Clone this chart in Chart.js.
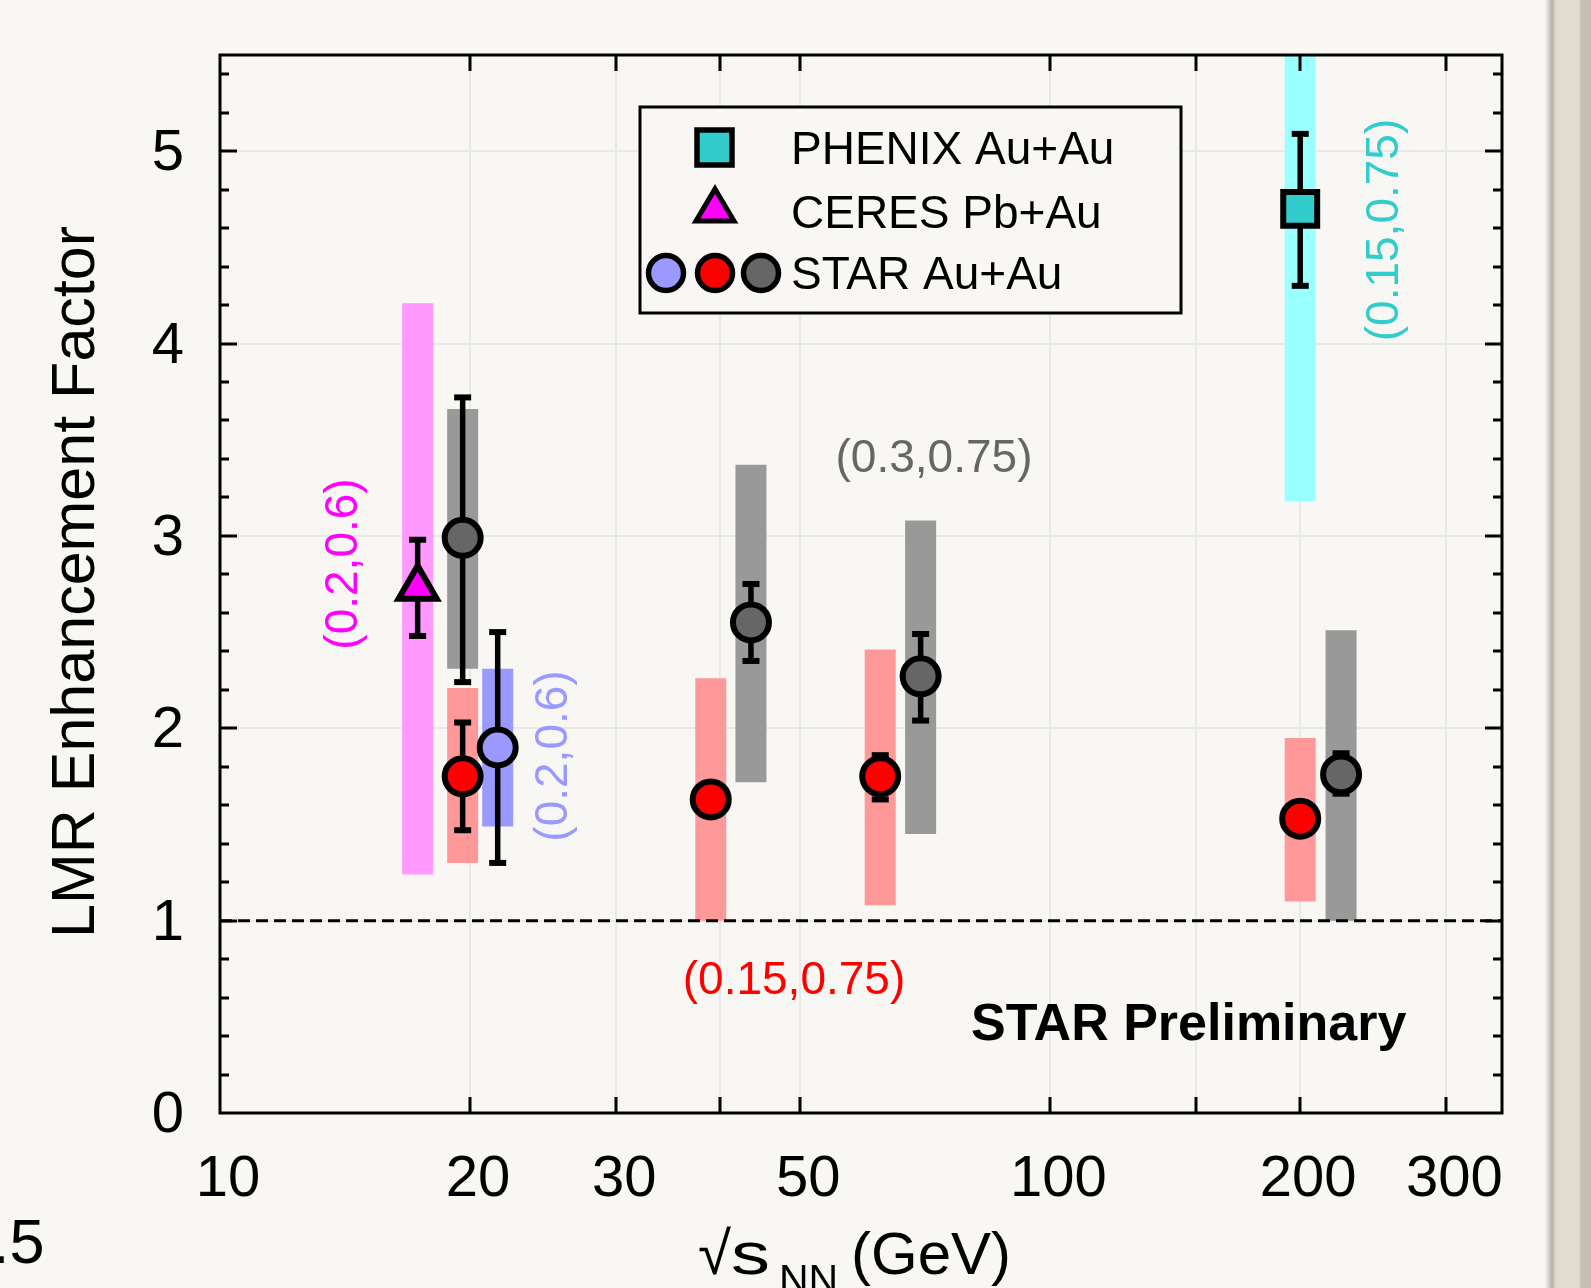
<!DOCTYPE html>
<html>
<head>
<meta charset="utf-8">
<title>LMR Enhancement Factor</title>
<script src="https://cdn.jsdelivr.net/npm/chart.js@4.4.1/dist/chart.umd.min.js"></script>
<style>
  html, body { margin: 0; padding: 0; background: #f8f7f3; overflow: hidden; }
  #wrap { position: relative; width: 1591px; height: 1288px; }
  #edge { position: absolute; left: 1545px; top: 0; width: 46px; height: 1288px;
    background: linear-gradient(to right, #f8f7f3 0px, #b3b1a9 7px, #c8c5ba 9px, #e1dccd 11px, #e1dccd 34px, #c4c0b4 36px, #c4c0b4 46px); }
</style>
</head>
<body>
<div id="wrap">
  <canvas id="c" width="1591" height="1288"></canvas>
  <div id="edge"></div>
</div>
<script>
const FONT = '"Liberation Sans", Arial, Helvetica, sans-serif';
const BG = '#f8f7f3';

// axes
const X_MIN = 10, X_MAX = 350;
const Y_MIN = 0, Y_MAX = 5.5, Y_MINOR = 0.2;
const xTickValues = [10, 20, 30, 40, 50, 100, 150, 200, 300];
const xTickLabels = ['10', '20', '30', '', '50', '100', '', '200', '300'];
const yTickValues = [0, 1, 2, 3, 4, 5];

// PHENIX Au+Au
const phenixX = [200];
const phenixY = [4.70];
const phenixStatLo = [4.30];
const phenixStatHi = [5.09];
const phenixSysLo = [3.18];
const phenixSysHi = [6.0];

// CERES Pb+Au
const ceresX = [17.3];
const ceresY = [2.73];
const ceresStatLo = [2.48];
const ceresStatHi = [2.98];
const ceresSysLo = [1.24];
const ceresSysHi = [4.21];

// STAR Au+Au (0.2,0.6)
const starBlueX = [21.6];
const starBlueY = [1.90];
const starBlueStatLo = [1.30];
const starBlueStatHi = [2.50];
const starBlueSysLo = [1.49];
const starBlueSysHi = [2.31];

// STAR Au+Au (0.15,0.75)
const starRedX = [19.6, 39, 62.4, 200];
const starRedY = [1.75, 1.63, 1.75, 1.53];
const starRedStatLo = [1.47, 1.60, 1.63, 1.50];
const starRedStatHi = [2.03, 1.67, 1.86, 1.56];
const starRedSysLo = [1.30, 1.00, 1.08, 1.10];
const starRedSysHi = [2.21, 2.26, 2.41, 1.95];

// STAR Au+Au (0.3,0.75)
const starGrayX = [19.6, 43.6, 69.8, 224];
const starGrayY = [2.99, 2.55, 2.27, 1.76];
const starGrayStatLo = [2.24, 2.35, 2.04, 1.66];
const starGrayStatHi = [3.72, 2.75, 2.49, 1.87];
const starGraySysLo = [2.31, 1.72, 1.45, 1.00];
const starGraySysHi = [3.66, 3.37, 3.08, 2.51];

const REF_LINE = 1;

const groups = [
  { x: phenixX, y: phenixY, lo: phenixStatLo, hi: phenixStatHi, sLo: phenixSysLo, sHi: phenixSysHi,
    fill: '#33cccc', sys: '#99ffff', style: 'rect', r: 24 },
  { x: ceresX, y: ceresY, lo: ceresStatLo, hi: ceresStatHi, sLo: ceresSysLo, sHi: ceresSysHi,
    fill: '#ff00ff', sys: '#ff99ff', style: 'triangle', r: 22 },
  { x: starBlueX, y: starBlueY, lo: starBlueStatLo, hi: starBlueStatHi, sLo: starBlueSysLo, sHi: starBlueSysHi,
    fill: '#9999ff', sys: '#9999ff', style: 'circle', r: 18 },
  { x: starRedX, y: starRedY, lo: starRedStatLo, hi: starRedStatHi, sLo: starRedSysLo, sHi: starRedSysHi,
    fill: '#ff0000', sys: '#ff9999', style: 'circle', r: 18 },
  { x: starGrayX, y: starGrayY, lo: starGrayStatLo, hi: starGrayStatHi, sLo: starGraySysLo, sHi: starGraySysHi,
    fill: '#666666', sys: '#999999', style: 'circle', r: 18 }
];

const datasets = [];
groups.forEach(g => {
  g.x.forEach((x, i) => {
    // systematic box
    datasets.push({ type: 'line', data: [{ x, y: g.sLo[i] }, { x, y: g.sHi[i] }],
      borderColor: g.sys, borderWidth: 31, borderCapStyle: 'butt', pointRadius: 0, clip: 0, order: 3 });
    // stat error bar with caps
    datasets.push({ type: 'line', data: [{ x, y: g.lo[i] }, { x, y: g.hi[i] }],
      borderColor: '#000', borderWidth: 5.5, pointStyle: 'line', pointRadius: 8.5,
      pointBorderColor: '#000', pointBorderWidth: 6, order: 1 });
  });
  datasets.push({ type: 'scatter', data: g.x.map((x, i) => ({ x, y: g.y[i] })),
    pointStyle: g.style, pointRadius: g.r, pointBackgroundColor: g.fill,
    pointBorderColor: '#000', pointBorderWidth: 6, order: 0 });
});
datasets.push({ type: 'line', data: [{ x: X_MIN, y: REF_LINE }, { x: X_MAX, y: REF_LINE }],
  borderColor: '#000', borderWidth: 3, borderDash: [12, 6], pointRadius: 0, order: 2 });

function text(ctx, s, x, y, o) {
  ctx.save();
  ctx.translate(x, y);
  if (o.rot) ctx.rotate(o.rot * Math.PI / 180);
  if (o.sx) ctx.scale(o.sx, 1);
  ctx.font = (o.bold ? 'bold ' : '') + o.size + 'px ' + FONT;
  ctx.fillStyle = o.color || '#000';
  ctx.textAlign = o.align || 'left';
  ctx.textBaseline = o.base || 'alphabetic';
  ctx.fillText(s, 0, 0);
  ctx.restore();
}

const notes = [
  { t: '(0.2,0.6)', color: '#ff00ff', x: 344, y: 564, rot: -90 },
  { t: '(0.2,0.6)', color: '#9999ff', x: 554, y: 756, rot: -90 },
  { t: '(0.3,0.75)', color: '#666666', x: 934, y: 459, rot: 0 },
  { t: '(0.15,0.75)', color: '#ff0000', x: 794, y: 981, rot: 0 },
  { t: '(0.15,0.75)', color: '#33cccc', x: 1385, y: 230, rot: -90 }
];

const frame = {
  id: 'frame',
  afterDatasetsDraw(chart) {
    const { ctx, chartArea: a, scales: { x, y } } = chart;
    ctx.save();
    ctx.strokeStyle = '#000';
    ctx.lineWidth = 3;
    ctx.beginPath();
    for (let k = 1; k * Y_MINOR < Y_MAX; k++) {
      const v = k * Y_MINOR;
      const major = Math.abs(v - Math.round(v)) < 1e-6;
      const len = major ? 17 : 9;
      const py = Math.round(y.getPixelForValue(v));
      ctx.moveTo(a.left, py); ctx.lineTo(a.left + len, py);
      ctx.moveTo(a.right, py); ctx.lineTo(a.right - len, py);
    }
    xTickValues.forEach(v => {
      if (v <= X_MIN) return;
      const px = Math.round(x.getPixelForValue(v));
      ctx.moveTo(px, a.bottom); ctx.lineTo(px, a.bottom - 16);
      ctx.moveTo(px, a.top); ctx.lineTo(px, a.top + 16);
    });
    ctx.stroke();
    ctx.strokeRect(a.left, a.top, a.right - a.left, a.bottom - a.top);
    ctx.restore();
  }
};

const decor = {
  id: 'decor',
  afterDraw(chart) {
    const ctx = chart.ctx;
    // legend
    ctx.save();
    ctx.fillStyle = BG;
    ctx.fillRect(640, 107, 541, 206);
    ctx.strokeStyle = '#000';
    ctx.lineWidth = 3;
    ctx.strokeRect(640, 107, 541, 206);
    ctx.lineWidth = 5.5;
    ctx.fillStyle = '#33cccc';
    ctx.fillRect(697, 130, 35, 35);
    ctx.strokeRect(697, 130, 35, 35);
    ctx.lineWidth = 5;
    ctx.fillStyle = '#ff00ff';
    ctx.beginPath();
    ctx.moveTo(715, 189); ctx.lineTo(734, 221); ctx.lineTo(696, 221); ctx.closePath();
    ctx.fill(); ctx.stroke();
    ctx.lineWidth = 5.5;
    [[666, '#9999ff'], [715, '#ff0000'], [761, '#666666']].forEach(([cx, c]) => {
      ctx.beginPath();
      ctx.arc(cx, 273, 17.5, 0, Math.PI * 2);
      ctx.fillStyle = c;
      ctx.fill(); ctx.stroke();
    });
    ctx.restore();
    text(ctx, 'PHENIX Au+Au', 791, 164, { size: 46 });
    text(ctx, 'CERES Pb+Au', 791, 228, { size: 46 });
    text(ctx, 'STAR Au+Au', 791, 289, { size: 46 });

    notes.forEach(n => text(ctx, n.t, n.x, n.y, { size: 46, color: n.color, rot: n.rot, align: 'center', base: 'middle' }));
    text(ctx, 'STAR Preliminary', 971, 1040, { size: 52, bold: true });

    // axis titles
    text(ctx, 'LMR Enhancement Factor', 77, 582, { size: 61, rot: -90, align: 'center', base: 'middle' });
    text(ctx, '\u221A', 698, 1274, { size: 60 });
    text(ctx, 's', 731, 1274, { size: 60, sx: 1.3 });
    text(ctx, 'NN', 779, 1293, { size: 41 });
    text(ctx, '(GeV)', 851, 1274, { size: 60 });

    // fragment of neighbouring slide
    text(ctx, '1.5', -43, 1263, { size: 63 });
  }
};

new Chart(document.getElementById('c'), {
  type: 'scatter',
  data: { datasets },
  options: {
    responsive: false,
    animation: false,
    devicePixelRatio: 1,
    layout: { padding: { left: 0, top: 55, right: 89, bottom: 0 } },
    plugins: { legend: { display: false }, tooltip: { enabled: false } },
    scales: {
      x: {
        type: 'logarithmic', min: X_MIN, max: X_MAX, position: 'bottom',
        afterBuildTicks: s => { s.ticks = xTickValues.map(v => ({ value: v })); },
        afterFit: s => { s.height = 175; s.paddingLeft = 0; s.paddingRight = 0; },
        ticks: { callback: (v, i) => xTickLabels[i], font: { family: FONT, size: 58 }, color: '#000',
          padding: 32, labelOffset: 8, maxRotation: 0, autoSkip: false },
        grid: { color: '#e8e8e8', lineWidth: 2, drawTicks: false },
        border: { display: false }
      },
      y: {
        type: 'linear', min: Y_MIN, max: Y_MAX,
        afterBuildTicks: s => { s.ticks = yTickValues.map(v => ({ value: v })); },
        afterFit: s => { s.width = 220; s.paddingTop = 0; s.paddingBottom = 0; },
        ticks: { callback: v => String(v), font: { family: FONT, size: 58 }, color: '#000',
          padding: 36, labelOffset: 3 },
        grid: { color: '#e8e8e8', lineWidth: 2, drawTicks: false },
        border: { display: false }
      }
    }
  },
  plugins: [frame, decor]
});
</script>
</body>
</html>
